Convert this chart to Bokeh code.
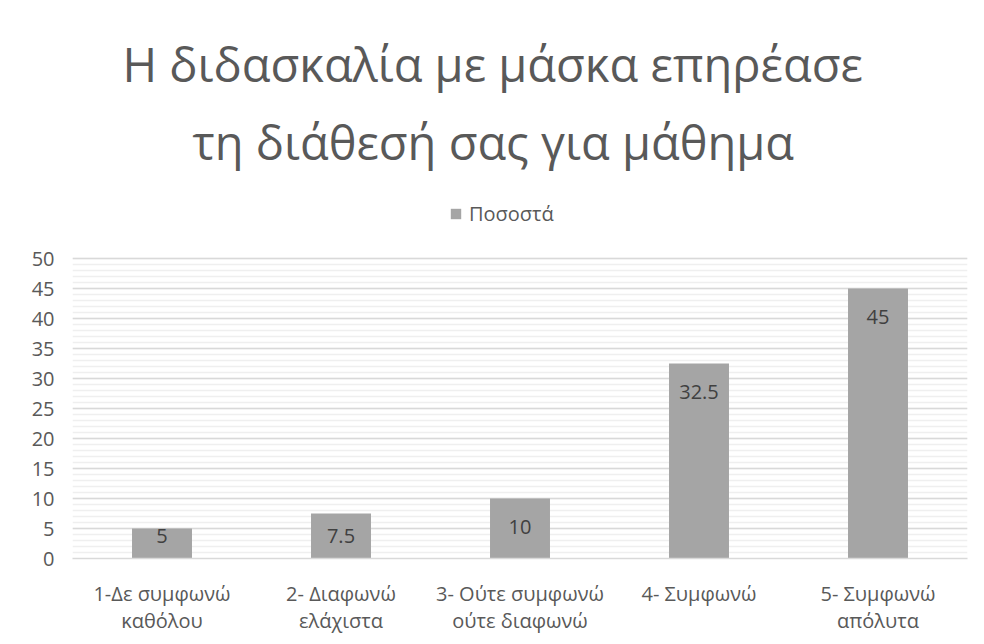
import numpy as np
from bokeh.plotting import figure
from bokeh.models import ColumnDataSource, Legend, LegendItem, FixedTicker, LabelSet, Title
from bokeh.core.properties import value
from bokeh.embed import file_html
from bokeh.resources import INLINE

categories = ["1-Δε συμφωνώ\nκαθόλου", "2- Διαφωνώ\nελάχιστα", "3- Ούτε συμφωνώ\nούτε διαφωνώ",
              "4- Συμφωνώ", "5- Συμφωνώ\nαπόλυτα"]
values = [5, 7.5, 10, 32.5, 45]
value_labels = ["5", "7.5", "10", "32.5", "45"]
y_ticks = [0, 5, 10, 15, 20, 25, 30, 35, 40, 45, 50]
y_minor_ticks = list(range(0, 51))
series_name = "Ποσοστά"
title_lines = ["Η διδασκαλία με μάσκα επηρέασε", "τη διάθεσή σας για μάθημα"]

FONT = "Open Sans"
GREY_TXT = "#595959"

label_y = np.maximum(np.array(values) - 4.8, 3.7)
src = ColumnDataSource(dict(cat=categories, val=values, lab=value_labels, ly=label_y))

# extra headroom above 50 holds the legend (no gridlines there)
p = figure(x_range=categories, y_range=(0, 62), width=982, height=642, output_backend="svg",
           toolbar_location=None, min_border_left=72, min_border_right=15,
           min_border_top=186, min_border_bottom=84)

r = p.vbar(x="cat", top="val", width=0.335, source=src, fill_color="#a5a5a5", line_color=None)

labels = LabelSet(x="cat", y="ly", text="lab", source=src, text_align="center",
                  text_baseline="middle", text_font=value(FONT), text_font_size="20px",
                  text_color="#404040")
p.add_layout(labels)

legend = Legend(items=[LegendItem(label=series_name, renderers=[r])], orientation="horizontal",
                location=(377, 331), label_text_font=FONT, label_text_font_size="20px",
                label_text_color=GREY_TXT, glyph_width=13, glyph_height=13,
                label_standoff=7, border_line_color=None, background_fill_alpha=0,
                margin=0, padding=4)
p.add_layout(legend, "center")

title_offsets = [50, 120]
for i in (1, 0):
    t = Title(text=title_lines[i], align="left", offset=title_offsets[i], text_font=FONT,
              text_font_style="normal", text_font_size="47px", text_color=GREY_TXT,
              text_line_height=0.9, standoff=25 if i == 1 else 0)
    p.add_layout(t, "above")

p.yaxis.ticker = FixedTicker(ticks=y_ticks, minor_ticks=y_minor_ticks)
p.ygrid.grid_line_color = "#d9d9d9"
p.ygrid.grid_line_width = 1.3
p.ygrid.minor_grid_line_color = "#efefef"
p.ygrid.minor_grid_line_width = 1.3
p.xgrid.grid_line_color = None
p.outline_line_color = None

p.yaxis.axis_line_color = None
p.yaxis.major_tick_line_color = None
p.yaxis.minor_tick_line_color = None
p.yaxis.major_tick_out = 0
p.yaxis.minor_tick_out = 0
p.yaxis.major_label_text_font = FONT
p.yaxis.major_label_text_font_size = "20px"
p.yaxis.major_label_text_color = GREY_TXT
p.yaxis.major_label_standoff = 18

p.xaxis.axis_line_color = "#d9d9d9"
p.xaxis.axis_line_width = 1.3
p.xaxis.major_tick_line_color = None
p.xaxis.major_tick_out = 0
p.xaxis.major_label_text_font = FONT
p.xaxis.major_label_text_font_size = "20px"
p.xaxis.major_label_text_color = GREY_TXT
p.xaxis.major_label_text_line_height = 1.0
p.xaxis.major_label_standoff = 21

open("out.html", "w").write(file_html(p, INLINE))
